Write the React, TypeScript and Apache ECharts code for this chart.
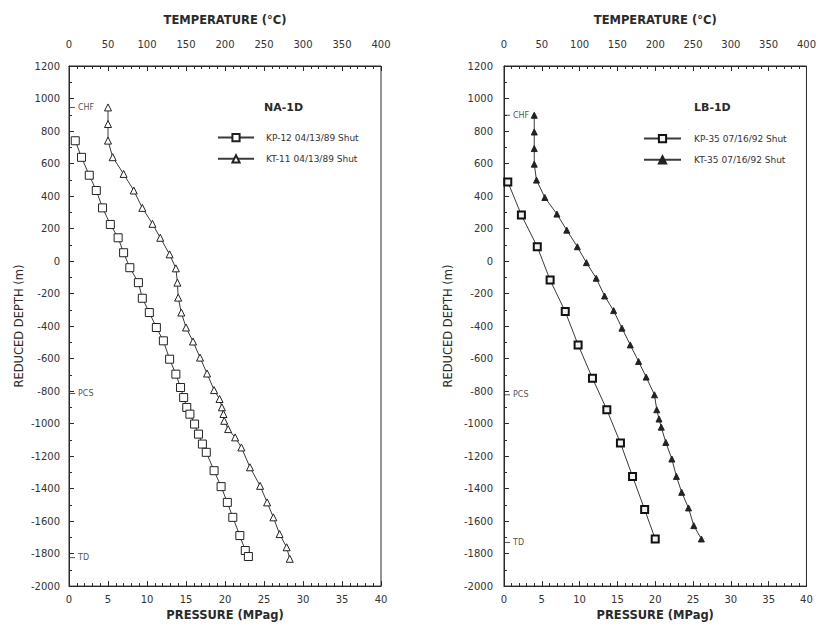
import React, { useEffect, useRef } from "react";
import * as echarts from "echarts";

// NA-1D well: static surveys of 04/13/89
const naKpDepth = [740, 638, 528, 434, 327, 225, 143, 51, -41, -133, -229, -317, -409, -491, -604, -696, -778, -840, -901, -942, -1003, -1065, -1126, -1177, -1290, -1388, -1485, -1577, -1689, -1781, -1818];
const naKpPressure = [0.8, 1.6, 2.6, 3.5, 4.3, 5.3, 6.3, 7.0, 7.8, 8.9, 9.4, 10.3, 11.2, 12.1, 12.9, 13.7, 14.3, 14.7, 15.1, 15.5, 16.1, 16.6, 17.1, 17.6, 18.6, 19.5, 20.3, 21.0, 21.9, 22.6, 23.0];
const naKtDepth = [945, 843, 741, 639, 536, 434, 327, 229, 143, 41, -45, -133, -225, -317, -409, -495, -594, -692, -794, -849, -900, -941, -983, -1034, -1085, -1147, -1269, -1383, -1485, -1577, -1680, -1761, -1832];
const naKtTemp = [50, 50, 50, 56, 70, 83, 94, 107, 117, 129, 137, 139, 140, 144, 150, 159, 168, 177, 186, 193, 196, 198, 199, 204, 213, 221, 232, 245, 254, 262, 270, 279, 283];

// LB-1D well: static surveys of 07/16/92
const lbKpDepth = [487, 283, 88, -117, -311, -516, -721, -915, -1120, -1325, -1529, -1710];
const lbKpPressure = [0.5, 2.3, 4.4, 6.1, 8.1, 9.8, 11.7, 13.6, 15.4, 17.0, 18.6, 20.0];
const lbKtDepth = [897, 794, 692, 596, 498, 391, 289, 190, 88, -10, -106, -215, -305, -413, -516, -618, -714, -823, -915, -972, -1022, -1116, -1218, -1325, -1423, -1519, -1628, -1710];
const lbKtTemp = [40, 40, 40, 40, 43, 54, 70, 83, 97, 109, 122, 133, 145, 156, 167, 178, 188, 199, 202, 205, 208, 214, 222, 228, 235, 244, 251, 261];

// Reference elevations marked on the depth axis
const markNames = ["CHF", "PCS", "TD"];
const naMarkDepth = [945, -815, -1825];
const lbMarkDepth = [897, -823, -1732];

const seriesNames = [
  "KP-12 04/13/89 Shut",
  "KT-11 04/13/89 Shut",
  "KP-35 07/16/92 Shut",
  "KT-35 07/16/92 Shut",
];
const wellNames = ["NA-1D", "LB-1D"];

const FONT = "DejaVu Sans";
const INK = "#2a2a2a";

const pairs = (xs: number[], ys: number[]) => xs.map((x, i) => [x, ys[i]]);
const plain = (v: number) => String(v);

function grids() {
  return [
    { left: 69, top: 66, width: 312, height: 521, show: true, borderColor: INK, borderWidth: 1 },
    { left: 504, top: 66, width: 310, height: 521, show: true, borderColor: INK, borderWidth: 1 },
  ];
}

function pressureAxis(gridIndex: number) {
  return {
    type: "value",
    gridIndex,
    position: "bottom",
    min: 0,
    max: 40,
    interval: 5,
    axisLine: { show: true, onZero: false, lineStyle: { color: INK, width: 1 } },
    axisTick: { show: true, inside: true, length: 5, lineStyle: { color: INK } },
    minorTick: { show: true, splitNumber: 5, length: 3, lineStyle: { color: INK } },
    splitLine: { show: false },
    axisLabel: { fontSize: 10, fontFamily: FONT, color: "#333", margin: 8, formatter: plain },
    name: "PRESSURE (MPag)",
    nameLocation: "middle",
    nameGap: 21,
    nameTextStyle: { fontSize: 11.5, fontWeight: "bold", fontFamily: FONT, color: INK },
  };
}

function temperatureAxis(gridIndex: number) {
  return {
    type: "value",
    gridIndex,
    position: "top",
    min: 0,
    max: 400,
    interval: 50,
    axisLine: { show: true, onZero: false, lineStyle: { color: INK, width: 1 } },
    axisTick: { show: true, inside: true, length: 5, lineStyle: { color: INK } },
    minorTick: { show: true, splitNumber: 5, length: 3, lineStyle: { color: INK } },
    splitLine: { show: false },
    axisLabel: { fontSize: 10, fontFamily: FONT, color: "#333", margin: 17, formatter: plain },
    name: "TEMPERATURE (\u00B0C)",
    nameLocation: "middle",
    nameGap: 40,
    nameTextStyle: { fontSize: 11.5, fontWeight: "bold", fontFamily: FONT, color: INK },
  };
}

function depthAxis(gridIndex: number, nameGap: number, labelMargin: number) {
  return {
    type: "value",
    gridIndex,
    min: -2000,
    max: 1200,
    interval: 200,
    axisLine: { show: true, onZero: false, lineStyle: { color: INK, width: 1 } },
    axisTick: { show: true, inside: true, length: 5, lineStyle: { color: INK } },
    minorTick: { show: true, splitNumber: 2, length: 3, lineStyle: { color: INK } },
    splitLine: { show: false },
    axisLabel: { fontSize: 10, fontFamily: FONT, color: "#333", margin: labelMargin, formatter: plain },
    name: "REDUCED DEPTH (m)",
    nameLocation: "middle",
    nameGap,
    nameTextStyle: { fontSize: 11.5, fontFamily: FONT, color: INK },
  };
}

function markSeries(xAxisIndex: number, yAxisIndex: number, depths: number[]) {
  return {
    type: "scatter",
    xAxisIndex,
    yAxisIndex,
    silent: true,
    symbol: "rect",
    symbolSize: [6, 1],
    symbolOffset: [3, 0],
    itemStyle: { color: INK },
    label: {
      show: true,
      position: "right",
      distance: 3,
      fontSize: 8,
      fontFamily: FONT,
      color: "#222",
      formatter: (p: any) => p.name,
    },
    data: depths.map((d, i) => ({ name: markNames[i], value: [0, d] })),
  };
}

const lineStyle = { color: "#3a3a3a", width: 1 };

function buildOption() {
  return {
    animation: false,
    backgroundColor: "#ffffff",
    textStyle: { fontFamily: FONT },
    grid: grids(),
    xAxis: [pressureAxis(0), temperatureAxis(0), pressureAxis(1), temperatureAxis(1)],
    yAxis: [depthAxis(0, 44, 9), depthAxis(1, 50, 11)],
    legend: [
      {
        data: [seriesNames[0], seriesNames[1]],
        orient: "vertical",
        left: 212,
        top: 128,
        itemWidth: 36,
        itemHeight: 9,
        itemGap: 12,
        selectedMode: false,
        textStyle: { fontSize: 9, fontFamily: FONT, color: "#333", padding: [0, 0, 0, 7] },
      },
      {
        data: [seriesNames[2], seriesNames[3]],
        orient: "vertical",
        left: 638,
        top: 129,
        itemWidth: 37,
        itemHeight: 9,
        itemGap: 12,
        selectedMode: false,
        textStyle: { fontSize: 9, fontFamily: FONT, color: "#333", padding: [0, 0, 0, 8] },
      },
    ],
    graphic: [
      {
        type: "text",
        left: 264,
        top: 102,
        style: { text: wellNames[0], fontSize: 11, fontWeight: "bold", fontFamily: FONT, fill: INK },
      },
      {
        type: "text",
        left: 694,
        top: 102,
        style: { text: wellNames[1], fontSize: 11, fontWeight: "bold", fontFamily: FONT, fill: INK },
      },
    ],
    series: [
      {
        name: seriesNames[0],
        type: "line",
        xAxisIndex: 0,
        yAxisIndex: 0,
        symbol: "rect",
        symbolSize: 8,
        lineStyle,
        itemStyle: { color: "#ffffff", borderColor: "#222", borderWidth: 1 },
        data: pairs(naKpPressure, naKpDepth),
      },
      {
        name: seriesNames[1],
        type: "line",
        xAxisIndex: 1,
        yAxisIndex: 0,
        symbol: "triangle",
        symbolSize: 7,
        lineStyle,
        itemStyle: { color: "#ffffff", borderColor: "#222", borderWidth: 1 },
        data: pairs(naKtTemp, naKtDepth),
      },
      {
        name: seriesNames[2],
        type: "line",
        xAxisIndex: 2,
        yAxisIndex: 1,
        symbol: "rect",
        symbolSize: 7,
        lineStyle,
        itemStyle: { color: "#f2f2f2", borderColor: "#111", borderWidth: 2 },
        data: pairs(lbKpPressure, lbKpDepth),
      },
      {
        name: seriesNames[3],
        type: "line",
        xAxisIndex: 3,
        yAxisIndex: 1,
        symbol: "triangle",
        symbolSize: 6,
        lineStyle,
        itemStyle: { color: "#222", borderColor: "#222", borderWidth: 1 },
        data: pairs(lbKtTemp, lbKtDepth),
      },
      markSeries(0, 0, naMarkDepth),
      markSeries(2, 1, lbMarkDepth),
    ],
  };
}

export default function App() {
  const ref = useRef<HTMLDivElement>(null);

  useEffect(() => {
    if (!ref.current) return;
    const chart = echarts.init(ref.current, undefined, { renderer: "svg" });
    chart.setOption(buildOption() as any);
    return () => chart.dispose();
  }, []);

  return (
    <div
      ref={ref}
      style={{ position: "fixed", left: 0, top: 0, width: 819, height: 626, background: "#fff" }}
    />
  );
}
